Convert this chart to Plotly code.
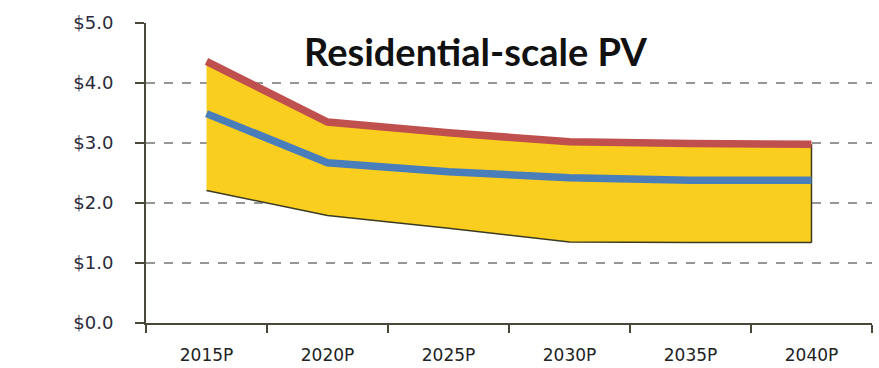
import plotly.graph_objects as go

# Installed-cost outlook, residential-scale PV ($/W)
years = ["2015P", "2020P", "2025P", "2030P", "2035P", "2040P"]
high_case = [4.36, 3.35, 3.17, 3.02, 2.99, 2.98]
mid_case = [3.49, 2.67, 2.52, 2.42, 2.38, 2.38]
low_case = [2.21, 1.79, 1.58, 1.35, 1.34, 1.34]
y_ticks = [0, 1, 2, 3, 4, 5]
y_tick_labels = ["&#36;%.1f" % v for v in y_ticks]

title_text = "Residential-scale PV"

band_fill = "#F9CE1F"
edge_color = "#3B3A22"
red = "#C0504D"
blue = "#4A7EBB"
axis_color = "#4A4838"
grid_color = "#969696"

fig = go.Figure()

# lower bound of the range (dark outline along its bottom)
fig.add_trace(go.Scatter(
    x=years, y=low_case, mode="lines",
    line=dict(color=edge_color, width=1.5),
    hoverinfo="skip", showlegend=False,
))
# shaded range up to the high case
fig.add_trace(go.Scatter(
    x=years, y=high_case, mode="lines", fill="tonexty",
    fillcolor=band_fill, line=dict(color=band_fill, width=0),
    hoverinfo="skip", showlegend=False,
))
# closing edge on the right side of the range
fig.add_trace(go.Scatter(
    x=[years[-1], years[-1]], y=[low_case[-1], high_case[-1]], mode="lines",
    line=dict(color=edge_color, width=1.5),
    hoverinfo="skip", showlegend=False,
))
fig.add_trace(go.Scatter(
    x=years, y=high_case, mode="lines", name="High",
    line=dict(color=red, width=7.5), showlegend=False,
))
fig.add_trace(go.Scatter(
    x=years, y=mid_case, mode="lines", name="Mid",
    line=dict(color=blue, width=7.5), showlegend=False,
))

fig.add_annotation(
    text="<b>" + title_text + "</b>",
    xref="paper", yref="paper", x=0.455, y=0.905,
    xanchor="center", yanchor="middle", showarrow=False,
    font=dict(family="Lato", size=38, color="#111111"),
)

fig.update_xaxes(
    type="category", range=[-0.5, len(years) - 0.5],
    tickson="boundaries", ticks="outside", ticklen=8, tickwidth=2,
    tickcolor=axis_color, showline=True, linecolor=axis_color, linewidth=2,
    showgrid=False, ticklabelstandoff=16, automargin=False,
    tickfont=dict(family="DejaVu Sans", size=17, color="#222222"),
)
fig.update_yaxes(
    range=[0, 5], tickvals=y_ticks, ticktext=y_tick_labels,
    ticks="outside", ticklen=9, tickwidth=2, tickcolor=axis_color,
    showline=True, linecolor=axis_color, linewidth=2,
    showgrid=True, gridcolor=grid_color, gridwidth=1.5, griddash="dash",
    zeroline=False, ticklabelstandoff=18, automargin=False,
    tickfont=dict(family="DejaVu Sans", size=18, color="#2a2a3a"),
)

fig.update_layout(
    width=879, height=368,
    margin=dict(l=146, r=7, t=23, b=45),
    paper_bgcolor="white", plot_bgcolor="white",
)

fig.write_html("out.html")
